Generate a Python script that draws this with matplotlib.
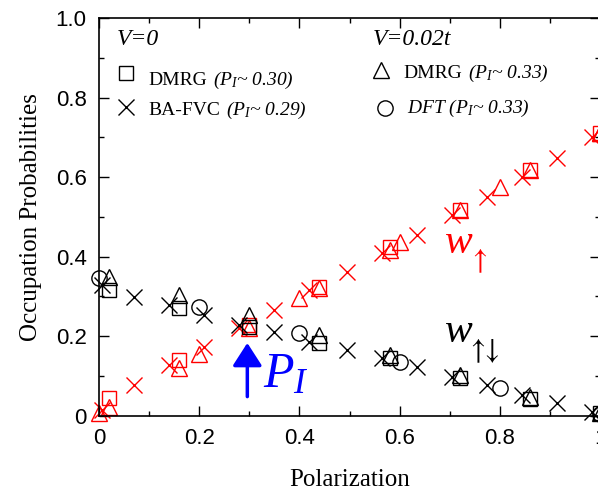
import matplotlib
matplotlib.use("Agg")
import matplotlib.pyplot as plt

plt.rcParams['font.family'] = ['Liberation Serif', 'DejaVu Serif']
plt.rcParams['mathtext.fontset'] = 'custom'
plt.rcParams['mathtext.rm'] = 'Liberation Serif'
plt.rcParams['mathtext.it'] = 'Liberation Serif:italic'
plt.rcParams['mathtext.bf'] = 'Liberation Serif:bold'

# BA-FVC, V=0 (crosses)
x_ba = [0.005, 0.07, 0.14, 0.21, 0.28, 0.35, 0.42, 0.494, 0.564, 0.634, 0.704, 0.774, 0.844, 0.914, 0.984]
ba_up = [0.015, 0.077, 0.128, 0.174, 0.22, 0.266, 0.316, 0.362, 0.409, 0.455, 0.505, 0.551, 0.601, 0.648, 0.702]
ba_ud = [0.33, 0.299, 0.278, 0.253, 0.228, 0.211, 0.186, 0.165, 0.144, 0.123, 0.098, 0.077, 0.052, 0.031, 0.010]

# DMRG, V=0 (squares)
x_dmrg0 = [0.02, 0.16, 0.30, 0.44, 0.58, 0.72, 0.86, 1.0]
dmrg0_up = [0.044, 0.14, 0.228, 0.325, 0.425, 0.517, 0.618, 0.71]
dmrg0_ud = [0.316, 0.27, 0.224, 0.182, 0.144, 0.094, 0.042, 0.006]

# DMRG, V=0.02t (triangles)
x_dmrg2 = [0.02, 0.16, 0.30, 0.44, 0.58, 0.72, 0.86, 1.0]
dmrg2_up = [0.023, 0.119, 0.22, 0.32, 0.417, 0.517, 0.618, 0.71]
dmrg2_ud = [0.35, 0.304, 0.253, 0.203, 0.153, 0.103, 0.048, 0.006]

# DFT, V=0.02t
x_dft = [0.0, 0.2, 0.4, 0.6, 0.8, 1.0]
dft_up = [0.007, 0.155, 0.295, 0.438, 0.576, 0.71]
dft_ud = [0.346, 0.274, 0.207, 0.136, 0.069, 0.004]

xticks = [0, 0.2, 0.4, 0.6, 0.8, 1.0]
xticklabels = ['0', '0.2', '0.4', '0.6', '0.8', '1']
yticks = [0, 0.2, 0.4, 0.6, 0.8, 1.0]
yticklabels = ['0', '0.2', '0.4', '0.6', '0.8', '1.0']

fig = plt.figure(figsize=(5.98, 4.93), dpi=100)
ax = fig.add_axes([0.1656, 0.1568, 0.8378, 0.8063])

mk = dict(linestyle='none', mfc='none', mew=1.0, clip_on=False)
for col, up in (('red', True), ('black', False)):
    ax.plot(x_ba, ba_up if up else ba_ud, marker='x', ms=12, color=col, **mk)
    ax.plot(x_dmrg0, dmrg0_up if up else dmrg0_ud, marker='s', ms=10, color=col, **mk)
    ax.plot(x_dmrg2, dmrg2_up if up else dmrg2_ud, marker='^', ms=12, color=col, **mk)
ax.plot(x_dft, dft_up, marker='^', ms=12, color='red', **mk)
ax.plot(x_dft, dft_ud, marker='o', ms=11, color='black', **mk)

ax.set_xlim(0, 1)
ax.set_ylim(0, 1)
ax.set_xticks(xticks)
ax.set_xticklabels(xticklabels)
ax.set_yticks(yticks)
ax.set_yticklabels(yticklabels)
ax.set_xticks([0.1, 0.3, 0.5, 0.7, 0.9], minor=True)
ax.set_yticks([0.1, 0.3, 0.5, 0.7, 0.9], minor=True)
ax.tick_params(which='both', direction='in', top=True, right=True, width=1.0)
ax.tick_params(which='major', length=7, pad=9, labelsize=16)
ax.tick_params(which='minor', length=3.5)
for lab in ax.get_xticklabels() + ax.get_yticklabels():
    lab.set_family('Liberation Sans')
for sp in ax.spines.values():
    sp.set_linewidth(1.2)

ax.set_xlabel('Polarization', fontsize=18, labelpad=14)
ax.set_ylabel('Occupation Probabilities', fontsize=18, labelpad=10)

# legend-like annotations
ax.text(0.036, 0.933, 'V=0', fontsize=17, style='italic')
ax.plot([0.053], [0.861], marker='s', ms=10, color='black', **mk)
ax.text(0.098, 0.832, 'DMRG', fontsize=14)
ax.text(0.228, 0.832, r'($P_I$~ 0.30)', fontsize=14, style='italic')
ax.plot([0.053], [0.776], marker='x', ms=12, color='black', **mk)
ax.text(0.098, 0.757, 'BA-FVC', fontsize=14)
ax.text(0.254, 0.757, r'($P_I$~ 0.29)', fontsize=14, style='italic')

ax.text(0.547, 0.933, 'V=0.02t', fontsize=17, style='italic')
ax.plot([0.563], [0.87], marker='^', ms=12, color='black', **mk)
ax.text(0.607, 0.85, 'DMRG', fontsize=14)
ax.text(0.737, 0.85, r'($P_I$~ 0.33)', fontsize=14, style='italic')
ax.plot([0.57], [0.775], marker='o', ms=11, color='black', **mk)
ax.text(0.615, 0.762, r'DFT ($P_I$~ 0.33)', fontsize=14, style='italic')

ax.text(0.69, 0.409, 'w', fontsize=30, style='italic', color='red')
ax.text(0.744, 0.374, '\u2191', fontsize=21, color='red', family='STIXGeneral')
ax.text(0.69, 0.185, 'w', fontsize=30, style='italic', color='black')
ax.text(0.74, 0.148, '\u2191\u2193', fontsize=21, color='black', family='STIXGeneral')

ax.annotate('', xy=(0.296, 0.183), xytext=(0.296, 0.048),
            arrowprops=dict(arrowstyle='-|>,head_length=0.7,head_width=0.45',
                            mutation_scale=20, color='blue', lw=2.5,
                            shrinkA=0, shrinkB=0))
ax.text(0.327, 0.073, r'$P_I$', fontsize=36, color='blue')

fig.savefig('out.png', dpi=100)
